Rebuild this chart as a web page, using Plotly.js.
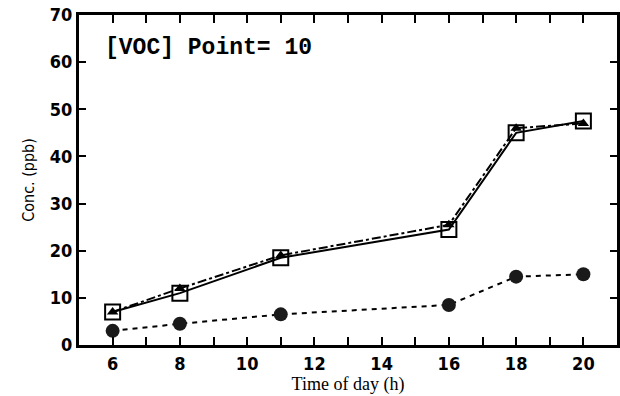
<!DOCTYPE html>
<html><head><meta charset="utf-8">
<script src="https://cdn.plot.ly/plotly-3.0.1.min.js"></script>
<style>html,body{margin:0;padding:0;background:#fff}</style>
</head><body>
<div id="chart" style="width:620px;height:396px"></div>
<script>
const hours = [6, 8, 11, 16, 18, 20];
const squareVals = [7, 11, 18.5, 24.5, 45, 47.5];
const triangleVals = [7, 12, 19, 25.5, 46, 47];
const circleVals = [3, 4.5, 6.5, 8.5, 14.5, 15];
const xTickVals = [6,7,8,9,10,11,12,13,14,15,16,17,18,19,20];
const xTickText = ['6','','8','','10','','12','','14','','16','','18','','20'];
const yTickVals = [0,10,20,30,40,50,60,70];
const labelText = '[VOC] Point= 10';

const tickFont = {family: 'DejaVu Sans Condensed, Liberation Sans Narrow, sans-serif', size: 18, color: '#000', weight: 'bold'};
const traces = [
  {x: hours, y: triangleVals, mode: 'lines+markers', line: {color: '#000', width: 2, dash: 'dashdot'},
   marker: {symbol: 'triangle-up', size: 10, color: '#000'}, showlegend: false},
  {x: hours, y: squareVals, mode: 'lines+markers', line: {color: '#000', width: 2},
   marker: {symbol: 'square-open', size: 15, color: '#000', line: {width: 2}}, showlegend: false},
  {x: hours, y: circleVals, mode: 'lines+markers', line: {color: '#000', width: 2, dash: '5px,5px'},
   marker: {symbol: 'circle', size: 14, color: '#1a1a1a'}, showlegend: false}
];
const layout = {
  width: 620, height: 396,
  margin: {l: 79, r: 3, t: 15, b: 51},
  paper_bgcolor: '#fff', plot_bgcolor: '#fff',
  showlegend: false,
  xaxis: {range: [5, 21], tickvals: xTickVals, ticktext: xTickText, ticks: 'inside', ticklen: 8, tickwidth: 2,
    tickcolor: '#000', mirror: 'ticks', showline: true, linecolor: '#000', linewidth: 3, showgrid: false, zeroline: false,
    tickfont: tickFont, title: {text: 'Time of day (h)', font: {family: 'Liberation Serif, DejaVu Serif, serif', size: 18, color: '#000'}, standoff: 1}},
  yaxis: {range: [0, 70], tickvals: yTickVals, ticks: 'inside', ticklen: 7, tickwidth: 2, tickcolor: '#000',
    mirror: 'ticks', showline: true, linecolor: '#000', linewidth: 3, showgrid: false, zeroline: false,
    tickfont: tickFont, title: {text: 'Conc. (ppb)', font: {family: 'DejaVu Sans Condensed, sans-serif', size: 16, color: '#000'}, standoff: 12}},
  annotations: [{x: 0.045, y: 0.9, xref: 'paper', yref: 'paper', xanchor: 'left', yanchor: 'middle', showarrow: false,
    text: labelText, font: {family: 'Liberation Mono, DejaVu Sans Mono, monospace', size: 23, color: '#000', weight: 'bold'}}]
};
Plotly.newPlot('chart', traces, layout, {displayModeBar: false, staticPlot: true});
</script>
</body></html>
